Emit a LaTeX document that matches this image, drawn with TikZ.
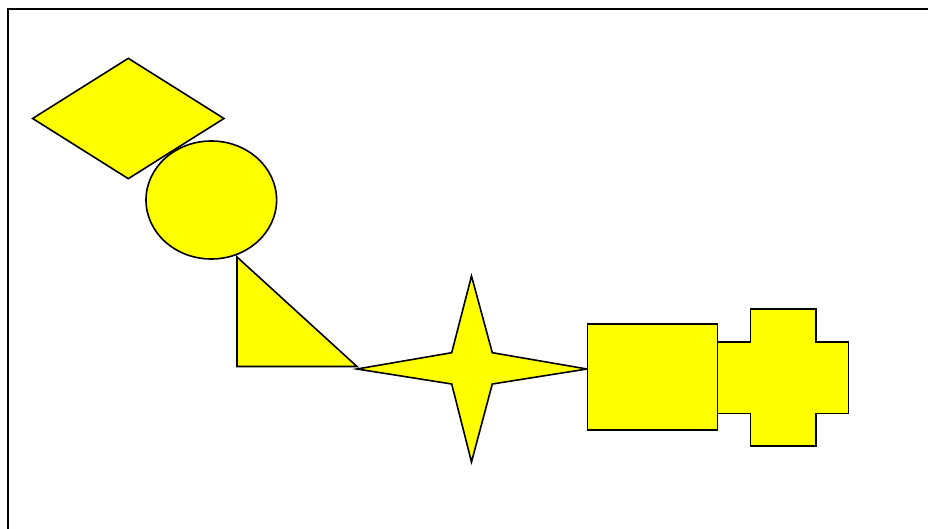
\documentclass[tikz,border=0pt]{standalone}
\usetikzlibrary{shapes.geometric}
\definecolor{shapeyellow}{RGB}{255,255,0}
\tikzset{
solid/.style={draw,fill=shapeyellow,line width=1.6pt,line join=miter},
frameline/.style={draw,line width=2pt}
}
\begin{document}
\begin{tikzpicture}[x=1pt,y=-1pt]
\clip(0,0)rectangle(928,529);
\draw[frameline](8,9)rectangle(960,560);
\node[solid,diamond,inner sep=0pt,minimum width=192pt,minimum height=121pt](dia)at(128.3,118.5){};
\node[solid,ellipse,inner sep=0pt,minimum width=130.6pt,minimum height=118pt](oval)at(211.3,200){};
\draw[solid](237,257)--(237,366.5)--(357,366.5)--cycle;
\draw[solid](357,369)--(451.7,352.7)--(471.5,276)--(492.3,352.7)--(587,369)--(492.3,384)--(471.5,462)--(451.7,384)--cycle;
\node[solid,rectangle,inner sep=0pt,minimum width=130pt,minimum height=106pt](box)at(652.5,377){};
\draw[solid](717.5,341.7)--(750.3,341.7)--(750.3,309)--(815.7,309)--(815.7,341.7)--(848.3,341.7)--(848.3,413.3)--(815.7,413.3)--(815.7,445.7)--(750.3,445.7)--(750.3,413.3)--(717.5,413.3)--cycle;
\end{tikzpicture}
\end{document}
